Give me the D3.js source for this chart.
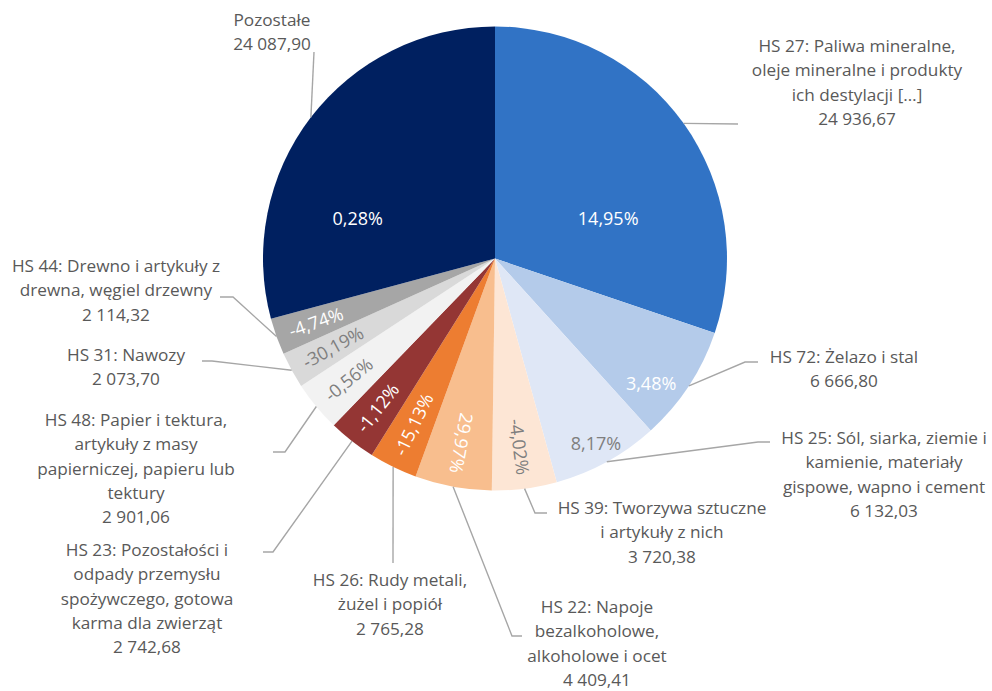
<!DOCTYPE html>
<html>
<head>
<meta charset="utf-8">
<script src="https://cdnjs.cloudflare.com/ajax/libs/d3/7.8.5/d3.min.js"></script>
<style>
  html, body { margin: 0; padding: 0; background: #ffffff; }
  svg { display: block; }
  text { font-family: "Open Sans", "Noto Sans", sans-serif; }
</style>
</head>
<body>
<svg id="chart" width="992" height="691"></svg>
<script>
// ---- data ----
const categories = [
  "HS 27: Paliwa mineralne, oleje mineralne i produkty ich destylacji […]",
  "HS 72: Żelazo i stal",
  "HS 25: Sól, siarka, ziemie i kamienie, materiały gispowe, wapno i cement",
  "HS 39: Tworzywa sztuczne i artykuły z nich",
  "HS 22: Napoje bezalkoholowe, alkoholowe i ocet",
  "HS 26: Rudy metali, żużel i popiół",
  "HS 23: Pozostałości i odpady przemysłu spożywczego, gotowa karma dla zwierząt",
  "HS 48: Papier i tektura, artykuły z masy papierniczej, papieru lub tektury",
  "HS 31: Nawozy",
  "HS 44: Drewno i artykuły z drewna, węgiel drzewny",
  "Pozostałe"
];
const values = [24936.67, 6666.80, 6132.03, 3720.38, 4409.41, 2765.28, 2742.68, 2901.06, 2073.70, 2114.32, 24087.90];
const changes = [14.95, 3.48, 8.17, -4.02, 29.97, -15.13, -1.12, -0.56, -30.19, -4.74, 0.28];

// ---- label text wrapping (as in the original) ----
const labelLines = [
  ["HS 27: Paliwa mineralne,", "oleje mineralne i produkty", "ich destylacji […]"],
  ["HS 72: Żelazo i stal"],
  ["HS 25: Sól, siarka, ziemie i", "kamienie, materiały", "gispowe, wapno i cement"],
  ["HS 39: Tworzywa sztuczne", "i artykuły z nich"],
  ["HS 22: Napoje", "bezalkoholowe,", "alkoholowe i ocet"],
  ["HS 26: Rudy metali,", "żużel i popiół"],
  ["HS 23: Pozostałości i", "odpady przemysłu", "spożywczego, gotowa", "karma dla zwierząt"],
  ["HS 48: Papier i tektura,", "artykuły z masy", "papierniczej, papieru lub", "tektury"],
  ["HS 31: Nawozy"],
  ["HS 44: Drewno i artykuły z", "drewna, węgiel drzewny"],
  ["Pozostałe"]
];

// ---- styles ----
const colors = ["#3173c5", "#b4cbea", "#dfe7f6", "#fde6d5", "#f8be8e", "#ed7d31",
                "#943634", "#f2f2f2", "#d9d9d9", "#a6a6a6", "#002060"];
const pctColors = ["#ffffff", "#ffffff", "#7f7f7f", "#7f7f7f", "#ffffff", "#ffffff",
                   "#ffffff", "#7f7f7f", "#7f7f7f", "#ffffff", "#ffffff"];

// ---- layout ----
const W = 992, H = 691;
const cx = 495, cy = 258.5, R = 232;
const labelFont = 17.2, pctFont = 18, lineH = 24.3;
// external label blocks: centre x, first line y; leader polyline after the arc point
const labelLayout = [
  { x: 857, y: 46,  leader: [[738, 124]] },
  { x: 844, y: 357, leader: [[745, 362], [758, 362]] },
  { x: 884, y: 438, leader: [[758, 442], [770, 442]] },
  { x: 662, y: 508, leader: [[535, 513], [547, 513]] },
  { x: 597, y: 607, leader: [[512, 636], [522, 636]] },
  { x: 390, y: 580, leader: [[393, 563]] },
  { x: 147, y: 550, leader: [[273, 552], [263, 552]] },
  { x: 136, y: 420, leader: [[285, 452], [273, 452]] },
  { x: 126, y: 355, leader: [[212, 361], [202, 361]] },
  { x: 116, y: 266, leader: [[233, 297], [220, 297]] },
  { x: 272, y: 20,  leader: [[314, 52]] }
];
// percent labels: horizontal ones get a polar position (deg, radius); others are radial
const pctLayout = [
  { mode: "h", a: 70.6, r: 120 },
  { mode: "h", a: 128.7, r: 200 },
  { mode: "h", a: 151.4, r: 211 },
  { mode: "r" }, { mode: "r" }, { mode: "r" }, { mode: "r" },
  { mode: "r" }, { mode: "r" }, { mode: "r" },
  { mode: "h", a: 286.3, r: 143 }
];

const pl = d3.formatLocale({ decimal: ",", thousands: "\u00a0", grouping: [3], minus: "-" });
const fmtVal = pl.format(",.2f");
const fmtPct = pl.format(".2f");

const svg = d3.select("#chart");
const g = svg.append("g").attr("transform", `translate(${cx},${cy})`);

const pie = d3.pie().sort(null).value(d => d.value).startAngle(0).endAngle(2 * Math.PI);
const data = categories.map((c, i) => ({ cat: c, value: values[i], change: changes[i], i }));
const arcs = pie(data);
const arc = d3.arc().innerRadius(0).outerRadius(R);

g.selectAll("path.slice").data(arcs).join("path")
  .attr("class", "slice")
  .attr("d", arc)
  .attr("fill", d => colors[d.data.i]);

// leader lines
const line = d3.line();
svg.append("g").selectAll("path.leader").data(arcs).join("path")
  .attr("class", "leader")
  .attr("fill", "none")
  .attr("stroke", "#a6a6a6")
  .attr("stroke-width", 1.4)
  .attr("d", d => {
    const m = (d.startAngle + d.endAngle) / 2;
    const p0 = [cx + R * Math.sin(m), cy - R * Math.cos(m)];
    return line([p0, ...labelLayout[d.data.i].leader]);
  });

// external labels
const lbl = svg.append("g").selectAll("text.lbl").data(arcs).join("text")
  .attr("class", "lbl")
  .attr("text-anchor", "middle")
  .attr("font-size", labelFont)
  .attr("fill", "#595959");
lbl.each(function(d) {
  const L = labelLayout[d.data.i];
  const lines = labelLines[d.data.i].concat([fmtVal(d.data.value)]);
  d3.select(this).selectAll("tspan").data(lines).join("tspan")
    .attr("x", L.x)
    .attr("y", (t, k) => L.y + k * lineH)
    .attr("dy", "0.35em")
    .text(t => t);
});

// percentage labels
const pct = g.selectAll("text.pct").data(arcs).join("text")
  .attr("class", "pct")
  .attr("text-anchor", "middle")
  .attr("dy", "0.35em")
  .attr("font-size", pctFont)
  .attr("fill", d => pctColors[d.data.i])
  .text(d => fmtPct(d.data.change) + "%");
pct.each(function(d) {
  const P = pctLayout[d.data.i];
  const sel = d3.select(this);
  if (P.mode === "h") {
    const a = P.a * Math.PI / 180;
    sel.attr("transform", `translate(${P.r * Math.sin(a)},${-P.r * Math.cos(a)})`);
  } else {
    const m = (d.startAngle + d.endAngle) / 2;
    const w = this.getComputedTextLength();
    const rr = R - 14 - w / 2;
    let rot = m * 180 / Math.PI - 90;
    if (rot > 110) rot -= 180;
    sel.attr("transform", `translate(${rr * Math.sin(m)},${-rr * Math.cos(m)}) rotate(${rot})`);
  }
});
</script>
</body>
</html>
